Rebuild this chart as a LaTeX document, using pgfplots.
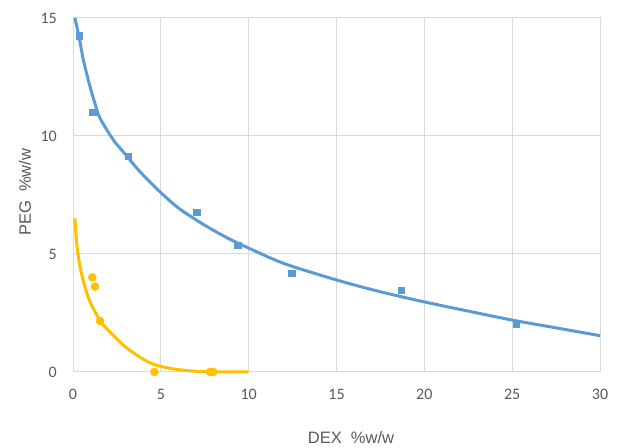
\documentclass[border=0pt]{standalone}
\usepackage{pgfplots}
\pgfplotsset{compat=1.18}
\usepackage{fontspec}
\setmainfont{Carlito}
\newfontfamily\labfont{Liberation Sans}
\definecolor{bluec}{HTML}{5B9BD5}
\definecolor{orangec}{HTML}{FFC000}
\definecolor{gridc}{HTML}{D9D9D9}
\definecolor{textc}{HTML}{595959}
\begin{document}
\begin{tikzpicture}
\useasboundingbox (0pt,0pt) rectangle (465.75pt,336pt);
\begin{axis}[
  at={(54.75pt,57pt)}, anchor=south west,
  scale only axis, width=395.25pt, height=265.5pt,
  xmin=0, xmax=30, ymin=0, ymax=15,
  xtick={0,5,...,30}, ytick={0,5,10,15},
  grid=major, major grid style={draw=gridc, line width=0.75pt},
  axis line style={draw=gridc, line width=0.75pt},
  major tick length=0pt,
  tick label style={font=\fontsize{12}{14}\selectfont, text=textc},
  /pgf/number format/assume math mode=true,
  yticklabel style={anchor=east, inner sep=0pt, xshift=-12pt},
  xticklabel style={anchor=north, inner sep=0pt, yshift=-12.5pt},
  xlabel={DEX\ \ \%w/w}, ylabel={PEG\ \ \%w/w},
  label style={font=\labfont\fontsize{12.4}{14}\selectfont, text=textc},
  xlabel style={at={(axis description cs:0.5275,-0.184)}, anchor=center},
  ylabel style={at={(axis description cs:-0.091,0.508)}, anchor=center},
  clip=false,
]
% blue fitted curve
\addplot[bluec, line width=2.25pt, smooth, tension=0.5, no markers] coordinates {
 (0.11,15.0) (0.2,14.7) (0.36,14.15) (0.59,13.22) (0.97,12.09) (1.25,11.38)
 (1.54,10.75) (2.3,9.83) (2.86,9.33) (3.81,8.49) (5,7.6) (6,6.95) (7,6.45) (8,6.0)
 (9,5.6) (10,5.25) (12,4.6) (15,3.9) (17.5,3.4) (20,2.97) (22.5,2.58)
 (25,2.2) (27.5,1.87) (30,1.54)
};
% orange fitted curve
\addplot[orangec, line width=2.25pt, smooth, tension=0.5, no markers] coordinates {
 (0.11,6.51) (0.21,5.45) (0.40,4.46) (0.68,3.61) (0.97,2.98) (1.35,2.42)
 (1.73,1.99) (2.3,1.55) (2.86,1.14) (3.62,0.72) (4.38,0.39) (5.05,0.23)
 (5.9,0.11) (7,0.03) (8,0.01) (10,0)
};
% blue data
\addplot[only marks, mark=square*, mark size=2.4pt, bluec, mark options={draw=bluec, fill=bluec}] coordinates {
 (0.36,14.25) (1.12,11.0) (3.15,9.15) (7.04,6.77) (9.37,5.38)
 (12.46,4.18) (18.69,3.47) (25.25,2.03)
};
% orange data
\addplot[only marks, mark=*, mark size=3pt, orangec, mark options={draw=orangec, fill=orangec}] coordinates {
 (1.1,4.01) (1.25,3.62) (1.54,2.16) (4.63,0) (7.8,0) (7.98,0)
};
\end{axis}
\end{tikzpicture}
\end{document}
